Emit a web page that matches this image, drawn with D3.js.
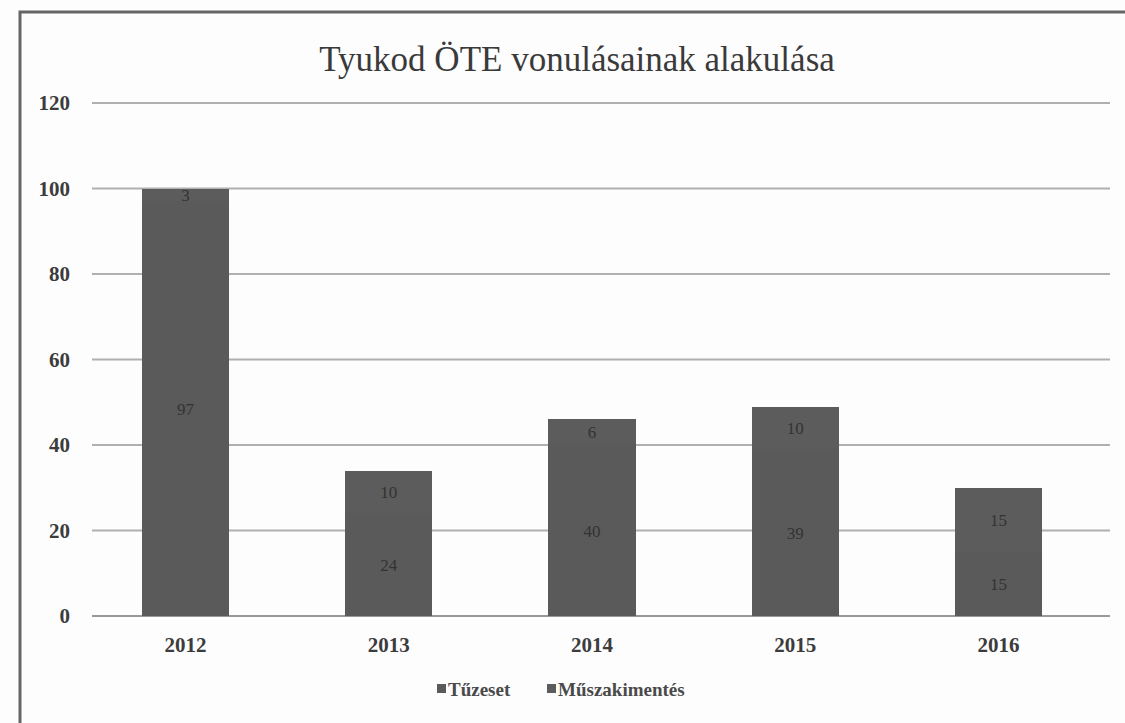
<!DOCTYPE html>
<html><head><meta charset="utf-8">
<script src="https://cdn.jsdelivr.net/npm/d3@7/dist/d3.min.js"></script>
<style>body{margin:0;background:#fff}svg{display:block}</style>
</head><body><svg id="c" width="1125" height="723"></svg>
<script>
const years = ["2012","2013","2014","2015","2016"];
const tuzeset = [97, 24, 40, 39, 15];
const muszaki = [3, 10, 6, 10, 15];
const seriesNames = ["Tűzeset","Műszakimentés"];
const yTicks = [0,20,40,60,80,100,120];
const title = "Tyukod ÖTE vonulásainak alakulása";

const svg = d3.select("#c");
const W = 1125, H = 723;
svg.append("rect").attr("width",W).attr("height",H).attr("fill","#fdfdfd");
// frame
svg.append("path").attr("d","M20,723 L20,12 L1125,12").attr("fill","none").attr("stroke","#666").attr("stroke-width",3);

const x = d3.scaleBand().domain(years).range([84,1100]).paddingInner(0.57).paddingOuter(0.285);
const y = d3.scaleLinear().domain([0,120]).range([616,103]);

const font = "'Liberation Serif','DejaVu Serif',serif";
svg.append("text").attr("x",577).attr("y",71).attr("text-anchor","middle")
  .attr("font-family",font).attr("font-size",35).attr("fill","#3a3a3a").text(title);

// gridlines
svg.append("g").selectAll("line").data(yTicks).join("line")
  .attr("x1",92).attr("x2",1110).attr("y1",d=>y(d)).attr("y2",d=>y(d))
  .attr("stroke",d=>d===0?"#999":"#b0b0b0").attr("stroke-width",2);

// y labels
svg.append("g").selectAll("text").data(yTicks).join("text")
  .attr("x",70).attr("y",d=>y(d)+7).attr("text-anchor","end")
  .attr("font-family",font).attr("font-weight","bold").attr("font-size",21).attr("fill","#3c3c3c")
  .text(d=>d);

// stacked data
const rows = years.map((yr,i)=>({year:yr, Tűzeset:tuzeset[i], Műszakimentés:muszaki[i]}));
const stack = d3.stack().keys(seriesNames)(rows);
const colors = {"Tűzeset":"#5a5a5a","Műszakimentés":"#5c5c5c"};
const g = svg.append("g");
stack.forEach(s=>{
  g.selectAll(null).data(s).join("rect")
    .attr("x",d=>x(d.data.year)).attr("width",x.bandwidth())
    .attr("y",d=>Math.round(y(d[1]))).attr("height",d=>Math.round(y(d[0]))-Math.round(y(d[1])))
    .attr("shape-rendering","crispEdges")
    .attr("fill",colors[s.key]);
});
stack.forEach(s=>{
  g.selectAll(null).data(s).join("text")
    .attr("x",d=>x(d.data.year)+x.bandwidth()/2).attr("y",d=>(y(d[0])+y(d[1]))/2+6)
    .attr("text-anchor","middle").attr("font-family",font).attr("font-size",17)
    .attr("fill","#333").text(d=>d[1]-d[0]);
});

// x labels
svg.append("g").selectAll("text").data(years).join("text")
  .attr("x",d=>x(d)+x.bandwidth()/2).attr("y",652).attr("text-anchor","middle")
  .attr("font-family",font).attr("font-weight","bold").attr("font-size",21).attr("fill","#3c3c3c").text(d=>d);

// legend
const lg = svg.append("g");
const lx = [437, 547];
seriesNames.forEach((n,i)=>{
  lg.append("rect").attr("x",lx[i]).attr("y",684).attr("width",9).attr("height",9).attr("fill",colors[n]);
  lg.append("text").attr("x",lx[i]+11).attr("y",696).attr("font-family",font).attr("font-size",19)
    .attr("font-weight","bold").attr("fill","#4a4a4a").text(n);
});
</script></body></html>
